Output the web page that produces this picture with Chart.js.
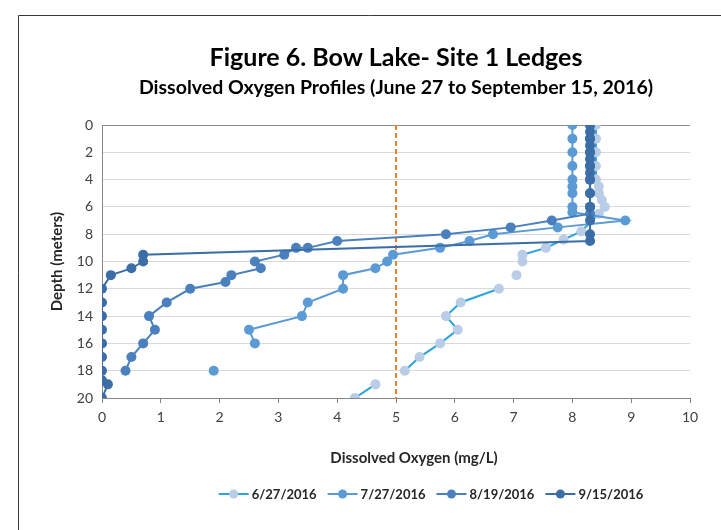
<!DOCTYPE html>
<html>
<head>
<meta charset="utf-8">
<script src="https://cdn.jsdelivr.net/npm/chart.js@4.4.1/dist/chart.umd.min.js"></script>
<style>
  html, body { margin: 0; padding: 0; background: #fff; }
</style>
</head>
<body>
<canvas id="chart" width="721" height="530"></canvas>
<script>
// titles
const chartTitle = "Figure 6. Bow Lake- Site 1 Ledges";
const chartSubtitle = "Dissolved Oxygen Profiles (June 27 to September 15, 2016)";
const xTitle = "Dissolved Oxygen (mg/L)";
const yTitle = "Depth (meters)";

// series
const seriesNames = ["6/27/2016", "7/27/2016", "8/19/2016", "9/15/2016"];

// 6/27 profile (null = no reading, line breaks)
const depth0627 = [0, 1, 2, 3, 4, 4.5, 5, 5.5, 6, 6.5, 7.8, 8.4, 9, 9.5, 10, 10.5, 11, 11.5, 12, 13, 14, 15, 16, 17, 18, 18.5, 19, 20];
const oxygen0627 = [8.4, 8.4, 8.4, 8.4, 8.4, 8.45, 8.45, 8.5, 8.55, 8.45, 8.15, 7.85, 7.55, 7.15, 7.15, null, 7.05, null, 6.75, 6.1, 5.85, 6.05, 5.75, 5.4, 5.15, null, 4.65, 4.3];

// 7/27 profile
const depth0727 = [0, 1, 2, 3, 4, 4.5, 5, 6, 6.4, 7, 7.5, 8, 8.5, 9, 9.5, 10, 10.5, 11, 12, 13, 14, 15, 16, 17, 18];
const oxygen0727 = [8.0, 8.0, 8.0, 8.0, 8.0, 8.0, 8.0, 8.0, 8.0, 8.9, 7.75, 6.65, 6.25, 5.75, 4.95, 4.85, 4.65, 4.1, 4.1, 3.5, 3.4, 2.5, 2.6, null, 1.9];

// 8/19 profile
const depth0819 = [0, 1, 2, 3, 4, 5, 6, 6.5, 7, 7.5, 8, 8.5, 9, 9, 9.5, 10, 10.5, 11, 11.5, 12, 13, 14, 15, 16, 17, 18];
const oxygen0819 = [8.3, 8.3, 8.3, 8.3, 8.3, 8.3, 8.3, 8.3, 7.65, 6.95, 5.85, 4.0, 3.5, 3.3, 3.1, 2.6, 2.7, 2.2, 2.1, 1.5, 1.1, 0.8, 0.9, 0.7, 0.5, 0.4];

// 9/15 profile
const depth0915 = [0, 0.5, 1, 1.5, 2, 2.5, 3, 3.5, 4, 5, 6, 7, 8, 8.5, 9.5, 10, 10.5, 11, 12, 13, 14, 15, 16, 17, 18, 18.7, 19, 20];
const oxygen0915 = [8.3, 8.3, 8.3, 8.3, 8.3, 8.3, 8.3, 8.3, 8.3, 8.3, 8.3, 8.3, 8.3, 8.3, 0.7, 0.7, 0.5, 0.15, 0, 0, 0, 0, 0, 0, 0, 0, 0.1, 0];

// 5 mg/L reference line
const thresholdValue = 5;
const thresholdDepths = [0, 20];

// axes
const xTicks = [0, 1, 2, 3, 4, 5, 6, 7, 8, 9, 10];
const depthTicks = [0, 2, 4, 6, 8, 10, 12, 14, 16, 18, 20];

const lineColors = ["#2ba3dc", "#5b9bd5", "#4a80bd", "#3b6da6"];
const dotColors = ["#b9cde6", "#5b9bd5", "#4a80bd", "#3b6da6"];

function toPoints(depths, values) {
  return depths.map((d, i) => ({ x: values[i], y: d }));
}

const profiles = [
  toPoints(depth0627, oxygen0627),
  toPoints(depth0727, oxygen0727),
  toPoints(depth0819, oxygen0819),
  toPoints(depth0915, oxygen0915)
];

const datasets = profiles.map((pts, i) => ({
  label: seriesNames[i],
  data: pts,
  showLine: true,
  borderColor: lineColors[i],
  borderWidth: 2,
  backgroundColor: dotColors[i],
  pointBackgroundColor: dotColors[i],
  pointBorderColor: dotColors[i],
  pointRadius: 5,
  pointBorderWidth: 0,
  spanGaps: false,
  order: 4 - i
}));

datasets.push({
  label: "threshold",
  data: thresholdDepths.map(d => ({ x: thresholdValue, y: d })),
  showLine: true,
  borderColor: "#ed7d31",
  borderWidth: 2,
  borderDash: [5, 3],
  pointRadius: 0,
  order: 10
});

const FONT = "Lato, 'Open Sans', sans-serif";

// titles, axis titles, legend and frame
const decorations = {
  id: "decorations",
  afterDraw(chart) {
    const { ctx, chartArea } = chart;
    const cx = (chartArea.left + chartArea.right) / 2;
    const cy = (chartArea.top + chartArea.bottom) / 2;
    ctx.save();
    ctx.textBaseline = "middle";
    ctx.textAlign = "center";
    ctx.fillStyle = "#000";
    ctx.font = "bold 25px " + FONT;
    ctx.fillText(chartTitle, cx, chartArea.top - 67);
    ctx.font = "bold 19.5px " + FONT;
    ctx.fillText(chartSubtitle, cx, chartArea.top - 37);

    // axis titles
    ctx.fillStyle = "#262626";
    ctx.font = "bold 15px " + FONT;
    ctx.fillText(xTitle, cx + 18, chartArea.bottom + 60);
    ctx.save();
    ctx.translate(chartArea.left - 45, cy);
    ctx.rotate(-Math.PI / 2);
    ctx.fillText(yTitle, 0, 0);
    ctx.restore();

    // legend
    ctx.font = "bold 13px " + FONT;
    const lineW = 30, gap = 3, spacing = 11;
    const widths = seriesNames.map(n => ctx.measureText(n).width);
    const total = widths.reduce((a, w) => a + lineW + gap + w, 0) + spacing * (seriesNames.length - 1);
    let x = cx + 35 - total / 2;
    const y = chartArea.bottom + 96;
    ctx.textAlign = "left";
    seriesNames.forEach((name, i) => {
      ctx.strokeStyle = lineColors[i];
      ctx.lineWidth = 2;
      ctx.beginPath();
      ctx.moveTo(x, y);
      ctx.lineTo(x + lineW, y);
      ctx.stroke();
      ctx.fillStyle = dotColors[i];
      ctx.beginPath();
      ctx.arc(x + lineW / 2, y, 4.5, 0, Math.PI * 2);
      ctx.fill();
      ctx.fillStyle = "#262626";
      ctx.fillText(name, x + lineW + gap, y + 1);
      x += lineW + gap + widths[i] + spacing;
    });

    // chart frame
    ctx.strokeStyle = "#3a3a3a";
    ctx.lineWidth = 1;
    ctx.beginPath();
    ctx.moveTo(18.5, chart.height);
    ctx.lineTo(18.5, 15.5);
    ctx.lineTo(chart.width, 15.5);
    ctx.stroke();
    ctx.restore();
  }
};

new Chart(document.getElementById("chart"), {
  type: "scatter",
  data: { datasets: datasets },
  plugins: [decorations],
  options: {
    responsive: false,
    animation: false,
    layout: { padding: { left: 49, right: 31, top: 125, bottom: 64 } },
    plugins: {
      legend: { display: false },
      tooltip: { enabled: false }
    },
    scales: {
      x: {
        type: "linear",
        min: 0,
        max: 10,
        afterBuildTicks: s => { s.ticks = xTicks.map(v => ({ value: v })); },
        afterFit: s => { s.height = 68; },
        ticks: { color: "#404040", font: { family: FONT, size: 14 }, padding: 6 },
        grid: { drawOnChartArea: false, drawTicks: true, tickLength: 5, tickColor: "#868686" },
        border: { color: "#868686", width: 1 }
      },
      y: {
        type: "linear",
        reverse: true,
        min: 0,
        max: 20,
        afterBuildTicks: s => { s.ticks = depthTicks.map(v => ({ value: v })); },
        afterFit: s => { s.width = 53; },
        ticks: { color: "#404040", font: { family: FONT, size: 14 }, padding: 9 },
        grid: {
          drawTicks: false,
          color: c => (c.tick && c.tick.value === 0 ? "#8c8c8c" : "#d9d9d9"),
          lineWidth: 1
        },
        border: { color: "#868686", width: 1 }
      }
    }
  }
});
</script>
</body>
</html>
